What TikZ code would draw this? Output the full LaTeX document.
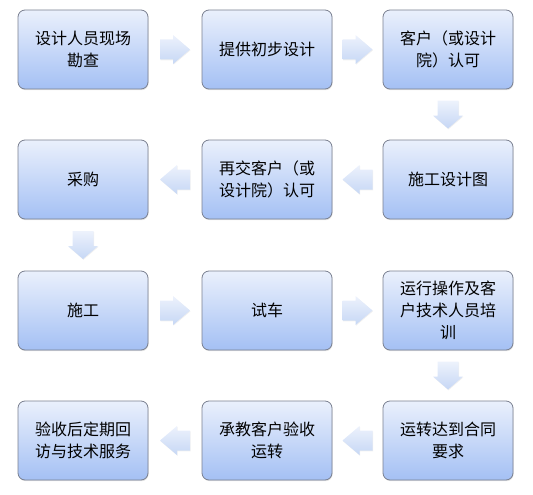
\documentclass[tikz,border=0pt]{standalone}
\usepackage{fontspec}
\newfontfamily\cjk{Noto Sans CJK SC}
\usetikzlibrary{shadows,calc}
\definecolor{boxtop}{HTML}{EAF0FC}
\definecolor{boxbot}{HTML}{A4C0F4}
\definecolor{boxline}{HTML}{7A8090}
\definecolor{arrtop}{HTML}{EDF2FC}
\definecolor{arrbot}{HTML}{C6D7F5}
\tikzset{
  stepbox/.style={draw=boxline, line width=0.8pt, rounded corners=7pt,
    top color=boxtop, bottom color=boxbot,
    minimum width=130pt, minimum height=79pt, inner sep=0pt,
    align=center, text=black,
    font=\cjk\fontsize{16}{22}\selectfont,
    drop shadow={opacity=0.22, shadow xshift=0.6pt, shadow yshift=-1.2pt}},
  arrstyle/.style={draw=none, top color=arrtop, bottom color=arrbot,
    drop shadow={opacity=0.12, shadow xshift=0.5pt, shadow yshift=-0.8pt}},
  pics/rarr/.style={code={
    \path[arrstyle] (-15,-10) -- (-2,-10) -- (-2,-14.5) -- (15,0) -- (-2,14.5) -- (-2,10) -- (-15,10) -- cycle;}},
  pics/larr/.style={code={
    \path[arrstyle] (15,-10) -- (2,-10) -- (2,-14.5) -- (-15,0) -- (2,14.5) -- (2,10) -- (15,10) -- cycle;}},
  pics/darr/.style={code={
    \path[arrstyle] (-10.5,14) -- (10.5,14) -- (10.5,-1) -- (15,-1) -- (0,-14) -- (-15,-1) -- (-10.5,-1) -- cycle;}},
}
\begin{document}
\begin{tikzpicture}[x=1pt,y=1pt]
\useasboundingbox (0,0) rectangle (533,-495);
\node[stepbox] (a1) at (83,-49.5) {设计人员现场\\勘查};
\node[stepbox] (a2) at (267,-49.5) {提供初步设计};
\node[stepbox] (a3) at (448,-49.5) {客户（或设计\\院）认可};
\node[stepbox] (b3) at (448,-179.5) {施工设计图};
\node[stepbox] (b2) at (267,-179.5) {再交客户（或\\设计院）认可};
\node[stepbox] (b1) at (83,-179.5) {采购};
\node[stepbox] (c1) at (83,-310.5) {施工};
\node[stepbox] (c2) at (267,-310.5) {试车};
\node[stepbox] (c3) at (448,-310.5) {运行操作及客\\户技术人员培\\训};
\node[stepbox] (d3) at (448,-440.5) {运转达到合同\\要求};
\node[stepbox] (d2) at (267,-440.5) {承教客户验收\\运转};
\node[stepbox] (d1) at (83,-440.5) {验收后定期回\\访与技术服务};
% connectors
\pic at ($(a1.east)!0.5!(a2.west)$) {rarr};
\pic at ($(a2.east)!0.5!(a3.west)$) {rarr};
\pic at ($(a3.south)!0.5!(b3.north)$) {darr};
\pic at ($(b3.west)!0.5!(b2.east)$) {larr};
\pic at ($(b2.west)!0.5!(b1.east)$) {larr};
\pic at ($(b1.south)!0.5!(c1.north)$) {darr};
\pic at ($(c1.east)!0.5!(c2.west)$) {rarr};
\pic at ($(c2.east)!0.5!(c3.west)$) {rarr};
\pic at ($(c3.south)!0.5!(d3.north)$) {darr};
\pic at ($(d3.west)!0.5!(d2.east)$) {larr};
\pic at ($(d2.west)!0.5!(d1.east)$) {larr};
\end{tikzpicture}
\end{document}
